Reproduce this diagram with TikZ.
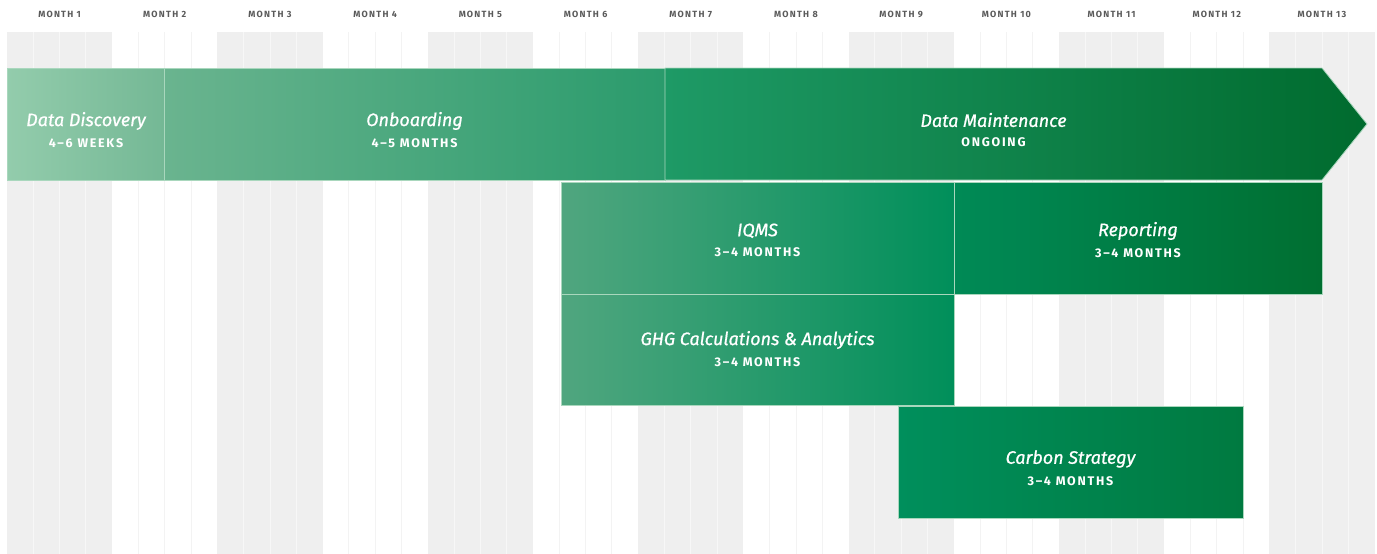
\documentclass[tikz,border=0pt]{standalone}
\usepackage{fontspec}
\setmainfont{Fira Sans}
\newfontfamily\spacedfont[LetterSpace=14]{Fira Sans}
\newfontfamily\titlefont[ItalicFeatures={FakeBold=0.8}]{Fira Sans}
\usetikzlibrary{positioning}

\definecolor{stripe}{HTML}{EFEFEF}
\definecolor{weekon}{HTML}{F7F7F7}
\definecolor{weekoff}{HTML}{F3F3F3}
\definecolor{edge}{HTML}{A9D7BD}
\definecolor{monthtext}{HTML}{5A5A5A}
\definecolor{greenA}{HTML}{93CCAC}
\definecolor{greenB}{HTML}{74B895}
\definecolor{greenC}{HTML}{6AB48F}
\definecolor{greenD}{HTML}{2A9B6C}
\definecolor{greenE}{HTML}{1E9A66}
\definecolor{greenF}{HTML}{008C58}
\definecolor{greenG}{HTML}{006B2E}
\definecolor{greenH}{HTML}{50A67F}
\definecolor{greenI}{HTML}{008F5A}
\definecolor{greenJ}{HTML}{008A56}
\definecolor{greenK}{HTML}{006F31}
\definecolor{greenL}{HTML}{008F5C}
\definecolor{greenM}{HTML}{007A40}

\newcommand{\phasetitle}[1]{{\fontsize{18}{20}\selectfont\titlefont\itshape #1}}
\newcommand{\phaselength}[1]{{\fontsize{12.5}{14}\selectfont\spacedfont\bfseries #1}}

\begin{document}
\begin{tikzpicture}[
    x=1pt, y=-1pt,
    bar/.style={rectangle, draw=edge, line width=0.8pt, anchor=north west, inner sep=0pt,
                minimum height=112pt},
    bartext/.style={text=white, align=center, inner sep=0pt},
    monthlabel/.style={text=monthtext, font=\fontsize{9}{10}\selectfont\spacedfont\bfseries}
]

\useasboundingbox (0,0) rectangle (1377,554);

% month columns and week lines
\foreach \m in {0,...,12}{
    \pgfmathsetmacro\xl{7+\m*105.2}
    \ifodd\m\else
        \fill[stripe] (\xl,32) rectangle ++(105.2,522);
    \fi
    \foreach \w in {1,2,3}{
        \ifodd\m
            \draw[weekoff, line width=1pt] ({\xl+\w*26.3},32) -- ++(0,522);
        \else
            \draw[weekon, line width=1pt] ({\xl+\w*26.3},32) -- ++(0,522);
        \fi
    }
    \pgfmathtruncatemacro\n{\m+1}
    \node[monthlabel] (month\n) at ({\xl+52.6},14) {MONTH \n};
}

% top row
\node[bar, left color=greenA, right color=greenB, minimum width=157pt] (discovery) at (7,68) {};
\node[bar, left color=greenC, right color=greenD, minimum width=501pt] (onboarding) at (164,68) {};
\shade[left color=greenE, middle color=greenF, right color=greenG, draw=edge, line width=0.8pt]
    (665,68) -- (1322,68) -- (1367,124) -- (1322,180) -- (665,180) -- cycle;

% lower rows
\node[bar, left color=greenH, right color=greenI, minimum width=393pt] (iqms) at (561,182) {};
\node[bar, left color=greenJ, right color=greenK, minimum width=368pt] (reporting) at (954,182) {};
\node[bar, left color=greenH, right color=greenI, minimum width=393pt, minimum height=111pt] (ghg) at (561,294) {};
\node[bar, left color=greenL, right color=greenM, minimum width=345pt] (carbon) at (898,406) {};

% labels
\node[bartext] (discoverytext) at (86,130)
    {\phasetitle{Data Discovery}\\[8pt]\phaselength{4–6 WEEKS}};
\node[bartext] (onboardingtext) at (414.5,130)
    {\phasetitle{Onboarding}\\[8pt]\phaselength{4–5 MONTHS}};
\node[bartext] (maintenancetext) at (993.5,130)
    {\phasetitle{Data Maintenance}\\[8pt]\phaselength{ONGOING}};
\node[bartext] (iqmstext) at (757.5,240)
    {\phasetitle{IQMS}\\[8pt]\phaselength{3–4 MONTHS}};
\node[bartext] (reportingtext) at (1138,240)
    {\phasetitle{Reporting}\\[8pt]\phaselength{3–4 MONTHS}};
\node[bartext] (ghgtext) at (757.5,349)
    {\phasetitle{GHG Calculations \& Analytics}\\[8pt]\phaselength{3–4 MONTHS}};
\node[bartext] (carbontext) at (1070.5,468)
    {\phasetitle{Carbon Strategy}\\[8pt]\phaselength{3–4 MONTHS}};

\end{tikzpicture}
\end{document}
